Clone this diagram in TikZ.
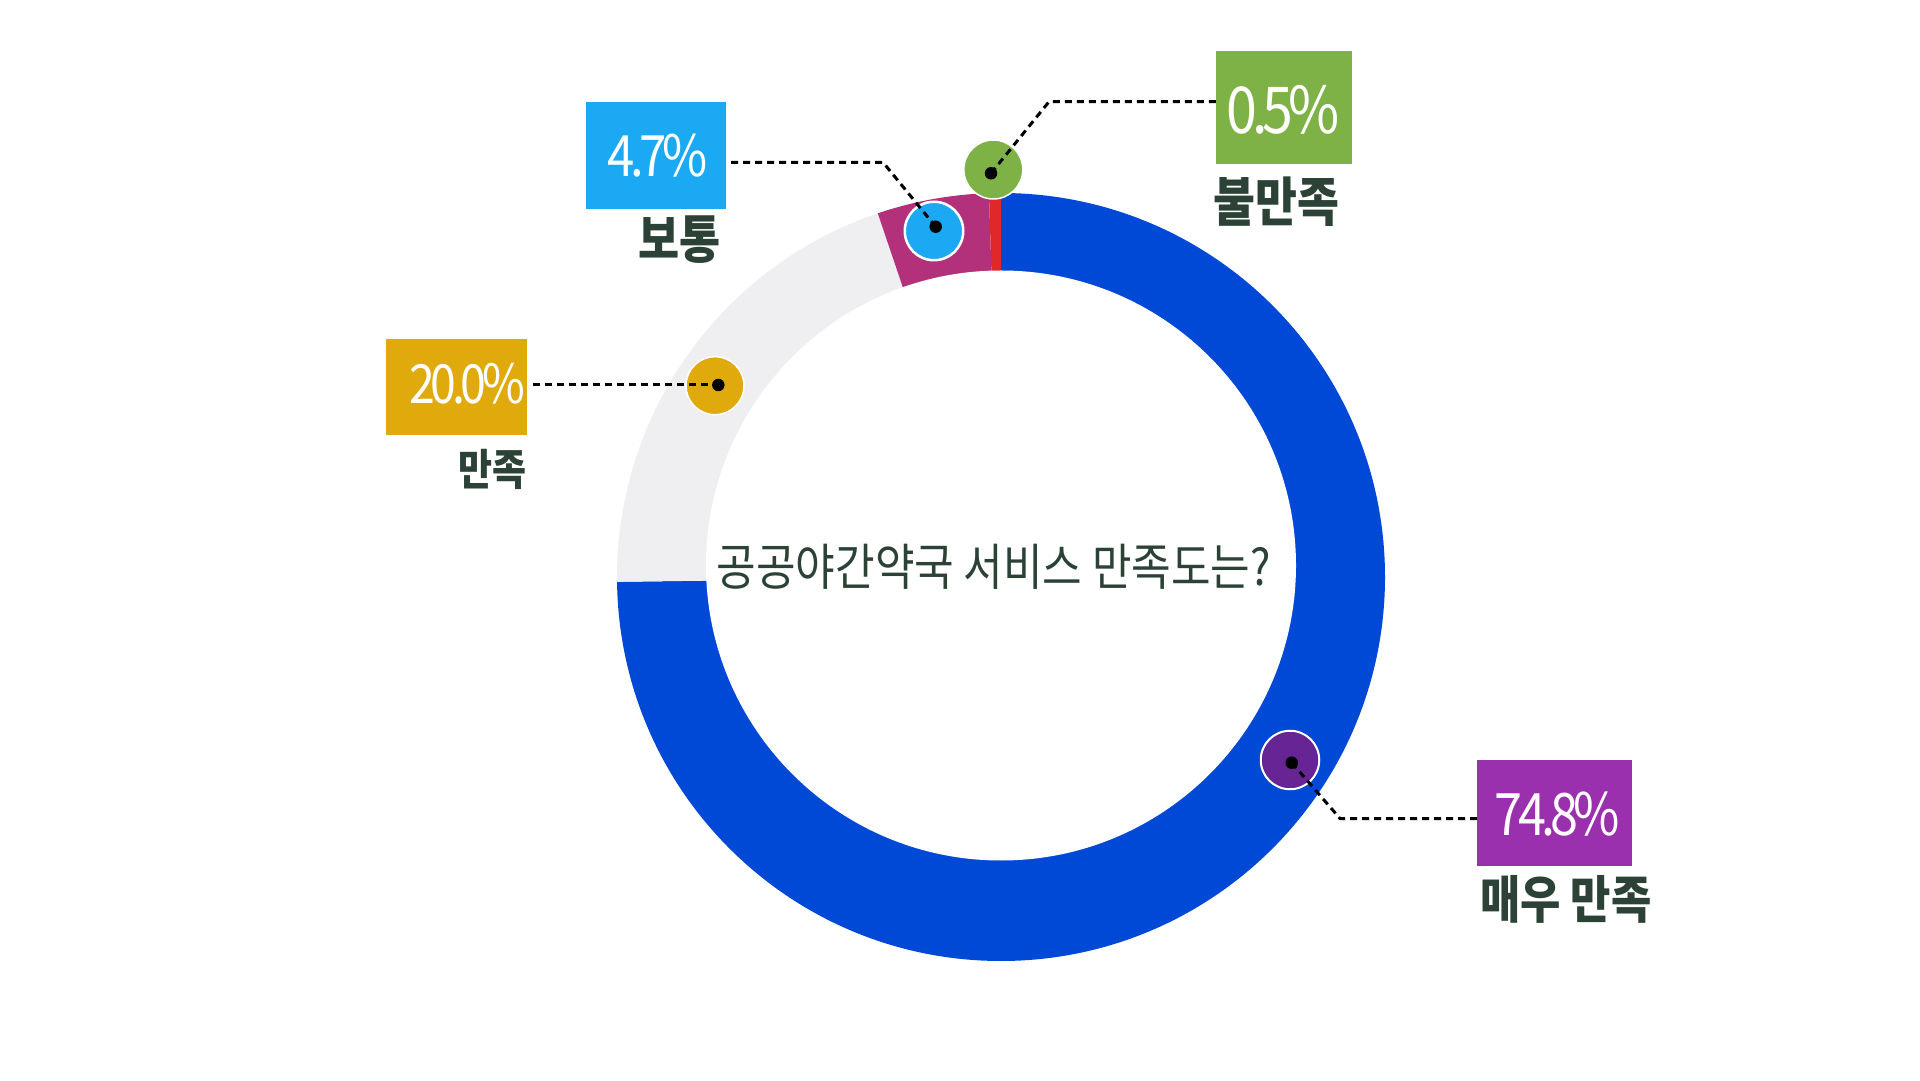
\documentclass[tikz,border=0pt]{standalone}
\usepackage{fontspec}
\usetikzlibrary{positioning}
\newfontfamily\krfont{Noto Sans CJK KR}[FakeStretch=0.86]
\newfontfamily\pctfont{Noto Sans CJK KR}[FakeStretch=0.86,LetterSpace=-8]
\newcommand\fsz[1]{\fontsize{#1}{#1}\selectfont}

\definecolor{ringblue}{HTML}{0049D6}
\definecolor{ringgray}{HTML}{EFEFF1}
\definecolor{ringpurple}{HTML}{B3317A}
\definecolor{ringred}{HTML}{E0282A}
\definecolor{boxblue}{HTML}{1AA9F2}
\definecolor{boxgreen}{HTML}{7EB247}
\definecolor{boxgold}{HTML}{E0A90C}
\definecolor{boxpurple}{HTML}{9A30AE}
\definecolor{markpurple}{HTML}{662494}
\definecolor{labeltext}{HTML}{2C4236}

\begin{document}
\begin{tikzpicture}[x=1pt, y=1pt,
  pct/.style={text=white, inner sep=0pt, anchor=base, font=\pctfont\fsz{#1}},
  lbl/.style={text=labeltext, inner sep=0pt, font=\krfont\bfseries\fsz{#1}},
  marker/.style={circle, draw=white, line width=2.5pt, minimum size=58.5pt, inner sep=0pt},
  dot/.style={circle, fill=black, minimum size=12.5pt, inner sep=0pt},
  leader/.style={black, line width=3pt, dash pattern=on 7pt off 5pt}]

 \fill[white] (0,0) rectangle (1920,1080);
 \useasboundingbox (0,0) rectangle (1920,1080);

 %ring
 \coordinate (O) at (1001,503);
 \coordinate (I) at (1001,514.5);
 \foreach \s/\e/\c in {90/-179.28/ringblue, -179.28/-251.28/ringgray,
                       -251.28/-268.2/ringpurple, -268.2/-270/ringred} {
   \fill[\c] (O) -- ++(\s:384) arc[start angle=\s, end angle=\e, radius=384] -- cycle;
 }
 \fill[white] (I) circle[radius=295];

 \node[text=labeltext, inner sep=0pt, font=\krfont\fsz{50}] (T) at (993.75,513.25) {공공야간약국 서비스 만족도는?};

 %boxes
 \node[fill=boxblue, minimum width=140pt, minimum height=107pt, inner sep=0pt] (B1) at (656,924.5) {};
 \node[fill=boxgreen, minimum width=136pt, minimum height=113pt, inner sep=0pt] (B2) at (1284,972.5) {};
 \node[fill=boxgold, minimum width=141pt, minimum height=96pt, inner sep=0pt] (B3) at (456.5,693) {};
 \node[fill=boxpurple, minimum width=155pt, minimum height=106pt, inner sep=0pt] (B4) at (1554.5,267) {};

 \node[pct=57] (V1) at (657.5,903.3) {4.7\%};
 \node[pct=64.6] (V2) at (1283,946.7) {0.5\%};
 \node[pct=54] (V3) at (467,676.7) {20.0\%};
 \node[pct=58.5] (V4) at (1557.5,245) {74.8\%};

 \node[lbl=52, anchor=east] (L1) at (720.7,840) {보통};
 \node[lbl=53, anchor=west] (L2) at (1213,878.3) {불만족};
 \node[lbl=43, anchor=east] (L3) at (526.7,611) {만족};
 \node[lbl=51, anchor=west] (L4) at (1480,181) {매우 만족};

 %markers
 \node[marker, fill=boxblue] (M1) at (934,849) {};
 \node[marker, fill=boxgreen, line width=1.5pt, minimum size=59pt] (M2) at (993.3,910.5) {};
 \node[marker, fill=boxgold, line width=1.5pt, minimum size=58pt] (M3) at (715,694.3) {};
 \node[marker, fill=markpurple, line width=2pt] (M4) at (1290,320) {};

 \node[dot] (D1) at (935.7,853.3) {};
 \node[dot] (D2) at (991,906.7) {};
 \node[dot] (D3) at (718.3,695) {};
 \node[dot] (D4) at (1291.7,317.3) {};

 %leaders
 \coordinate (K1) at (883,917.7);
 \coordinate (K2) at (1049,978.3);
 \coordinate (K4) at (1340,261.5);
 \draw[leader, shorten <=5pt] (B1.east |- K1) -- (K1) -- (D1.center);
 \draw[leader] (D2.center) -- (K2) -- (B2.west |- K2);
 \draw[leader, shorten <=6pt] (B3.east |- D3) -- (D3.center);
 \draw[leader] (D4.center) -- (K4) -- (B4.west |- K4);

\end{tikzpicture}
\end{document}
